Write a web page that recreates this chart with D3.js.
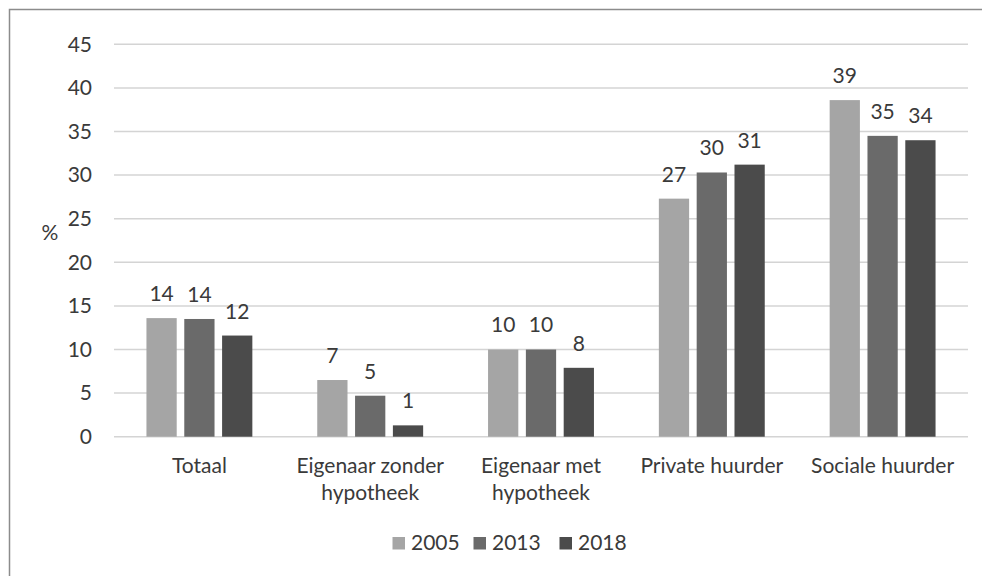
<!DOCTYPE html>
<html>
<head>
<meta charset="utf-8">
<script src="https://cdn.jsdelivr.net/npm/d3@7"></script>
<style>
  body { margin: 0; background: #fff; }
  text { font-family: Lato, "Open Sans", sans-serif; fill: #3a3a3a; }
</style>
</head>
<body>
<div id="chart"></div>
<script>
var categories = [["Totaal"], ["Eigenaar zonder", "hypotheek"], ["Eigenaar met", "hypotheek"], ["Private huurder"], ["Sociale huurder"]];
var years = ["2005", "2013", "2018"];
var v2005 = [13.6, 6.5, 10.0, 27.3, 38.6];
var v2013 = [13.5, 4.7, 10.0, 30.3, 34.5];
var v2018 = [11.6, 1.3, 7.9, 31.2, 34.0];
var labels2005 = ["14", "7", "10", "27", "39"];
var labels2013 = ["14", "5", "10", "30", "35"];
var labels2018 = ["12", "1", "8", "31", "34"];
var yTicks = [0, 5, 10, 15, 20, 25, 30, 35, 40, 45];

var colors = {"2005": "#a5a5a5", "2013": "#6a6a6a", "2018": "#4b4b4b"};
var fontSize = "21px";

var W = 982, H = 576;
var margin = {top: 44.3, right: 14, bottom: 139.3, left: 114},
    width = W - margin.left - margin.right,
    height = H - margin.top - margin.bottom;

var root = d3.select("#chart").append("svg")
    .attr("width", W)
    .attr("height", H);

// outer frame
root.append("rect")
    .attr("x", 9.5).attr("y", 9.5)
    .attr("width", W).attr("height", H)
    .attr("fill", "none")
    .attr("stroke", "#8c8c8c")
    .attr("stroke-width", 1.5);

var svg = root.append("g")
    .attr("transform", "translate(" + margin.left + "," + margin.top + ")");

var keys = categories.map(function (c) { return c.join(" "); });
var series = {"2005": v2005, "2013": v2013, "2018": v2018};
var seriesLabels = {"2005": labels2005, "2013": labels2013, "2018": labels2018};

var x0 = d3.scaleBand()
    .domain(keys)
    .range([0, width])
    .paddingInner(0.38)
    .paddingOuter(0.19);

var x1 = d3.scaleBand()
    .domain(years)
    .range([0, x0.bandwidth()])
    .paddingInner(0.2);

var y = d3.scaleLinear()
    .domain([0, 45])
    .range([height, 0]);

// gridlines
svg.append("g")
    .selectAll("line")
    .data(yTicks)
    .enter().append("line")
    .attr("x1", 0).attr("x2", width)
    .attr("y1", function (d) { return y(d); })
    .attr("y2", function (d) { return y(d); })
    .attr("stroke", "#d4d4d4")
    .attr("stroke-width", 1.5);

// y axis labels
var yAxis = svg.append("g")
    .call(d3.axisLeft(y).tickValues(yTicks).tickSize(0).tickPadding(22));
yAxis.select(".domain").remove();
yAxis.selectAll("text")
    .style("font-size", fontSize)
    .style("font-family", "Lato, 'Open Sans', sans-serif")
    .attr("fill", "#3a3a3a");

svg.append("text")
    .attr("x", 50 - margin.left)
    .attr("y", y(23.4))
    .attr("text-anchor", "middle")
    .attr("dy", "0.35em")
    .style("font-size", fontSize)
    .text("%");

// bars
var groups = svg.append("g")
    .selectAll("g")
    .data(keys)
    .enter().append("g")
    .attr("transform", function (d) { return "translate(" + x0(d) + ",0)"; });

function rows(d, i) {
    return years.map(function (yr) { return {year: yr, value: series[yr][i], label: seriesLabels[yr][i]}; });
}

groups.selectAll("rect")
    .data(rows)
    .enter().append("rect")
    .attr("x", function (d) { return x1(d.year); })
    .attr("y", function (d) { return y(d.value); })
    .attr("width", x1.bandwidth())
    .attr("height", function (d) { return height - y(d.value); })
    .attr("fill", function (d) { return colors[d.year]; });

groups.selectAll("text.val")
    .data(rows)
    .enter().append("text")
    .attr("class", "val")
    .attr("x", function (d) { return x1(d.year) + x1.bandwidth() / 2; })
    .attr("y", function (d) { return y(d.value) - 17; })
    .attr("text-anchor", "middle")
    .style("font-size", fontSize)
    .text(function (d) { return d.label; });

// category labels
var catLabels = svg.append("g")
    .selectAll("text")
    .data(categories)
    .enter().append("text")
    .attr("text-anchor", "middle")
    .attr("x", function (d, i) { return x0(keys[i]) + x0.bandwidth() / 2; })
    .attr("y", height + 36)
    .style("font-size", fontSize);

catLabels.selectAll("tspan")
    .data(function (d) { return d; })
    .enter().append("tspan")
    .attr("x", function () { return d3.select(this.parentNode).attr("x"); })
    .attr("dy", function (d, i) { return i === 0 ? 0 : 27; })
    .text(function (d) { return d; });

// legend
var legendX = [392.5, 473.5, 559.5];
var legend = root.append("g")
    .selectAll("g")
    .data(years)
    .enter().append("g")
    .attr("transform", function (d, i) { return "translate(" + legendX[i] + ",537)"; });

legend.append("rect")
    .attr("width", 12.5).attr("height", 12.5)
    .attr("fill", function (d) { return colors[d]; });

legend.append("text")
    .attr("x", 18.5)
    .attr("y", 13)
    .style("font-size", fontSize)
    .text(function (d) { return d; });
</script>
</body>
</html>
